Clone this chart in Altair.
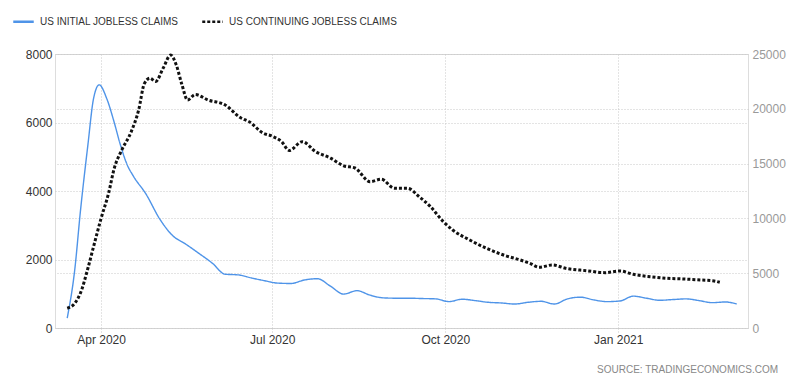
import altair as alt
import pandas as pd

series_names = ["US INITIAL JOBLESS CLAIMS", "US CONTINUING JOBLESS CLAIMS"]

initial_dates = [
    "2020-03-14", "2020-03-18", "2020-03-21", "2020-03-25", "2020-03-28", "2020-03-31",
    "2020-04-04", "2020-04-08", "2020-04-11", "2020-04-15", "2020-04-18", "2020-04-25",
    "2020-05-02", "2020-05-09", "2020-05-16", "2020-05-23", "2020-05-30", "2020-06-06",
    "2020-06-13", "2020-06-20", "2020-06-27", "2020-07-04", "2020-07-11", "2020-07-18",
    "2020-07-25", "2020-08-01", "2020-08-08", "2020-08-15", "2020-08-22", "2020-08-29",
    "2020-09-05", "2020-09-12", "2020-09-19", "2020-09-26", "2020-10-03", "2020-10-10",
    "2020-10-17", "2020-10-24", "2020-10-31", "2020-11-07", "2020-11-14", "2020-11-21",
    "2020-11-28", "2020-12-05", "2020-12-12", "2020-12-19", "2020-12-26", "2021-01-02",
    "2021-01-09", "2021-01-16", "2021-01-23", "2021-01-30", "2021-02-06", "2021-02-13",
    "2021-02-20", "2021-02-27", "2021-03-05",
]
initial_values = [
    290, 1700, 3400, 5350, 6700, 7100,
    6700, 6000, 5400, 4750, 4450, 3900,
    3200, 2700, 2450, 2180, 1900, 1570,
    1550, 1460, 1380, 1310, 1300, 1400,
    1440, 1220, 990, 1090, 960, 880,
    870, 870, 860, 850, 770, 840,
    800, 750, 730, 700, 750, 780,
    700, 850, 900, 820, 770, 790,
    930, 870, 810, 830, 850, 800,
    740, 760, 700,
]

continuing_dates = [
    "2020-03-14", "2020-03-18", "2020-03-21", "2020-03-25", "2020-03-28", "2020-04-01",
    "2020-04-05", "2020-04-08", "2020-04-12", "2020-04-17", "2020-04-21", "2020-04-24",
    "2020-04-27", "2020-04-30", "2020-05-04", "2020-05-08", "2020-05-11", "2020-05-14",
    "2020-05-17", "2020-05-21", "2020-05-28", "2020-06-06", "2020-06-14", "2020-06-19",
    "2020-06-26", "2020-07-01", "2020-07-06", "2020-07-10", "2020-07-17", "2020-07-24",
    "2020-08-01", "2020-08-08", "2020-08-14", "2020-08-22", "2020-08-28", "2020-09-04",
    "2020-09-11", "2020-09-17", "2020-09-23", "2020-09-30", "2020-10-05", "2020-10-14",
    "2020-10-23", "2020-11-01", "2020-11-10", "2020-11-15", "2020-11-20", "2020-11-27",
    "2020-12-04", "2020-12-15", "2020-12-25", "2021-01-02", "2021-01-09", "2021-01-18",
    "2021-01-27", "2021-02-05", "2021-02-14", "2021-02-21", "2021-02-24",
]
continuing_values = [
    1800, 2250, 3170, 5450, 7420, 10000,
    12300, 14570, 16240, 17900, 19900, 22300,
    22800, 22500, 23700, 24900, 24000, 22200,
    20800, 21300, 20800, 20350, 19200, 18800,
    17800, 17500, 17000, 16200, 17000, 16100,
    15500, 14800, 14600, 13350, 13570, 12750,
    12750, 12000, 11100, 9700, 8940, 8030,
    7270, 6660, 6200, 5900, 5540, 5750,
    5450, 5230, 5050, 5200, 4900, 4680,
    4530, 4470, 4380, 4290, 4170,
]

left_ticks = [0, 2000, 4000, 6000, 8000]
right_ticks = [0, 5000, 10000, 15000, 20000, 25000]
x_ticks = [(2020, 4), (2020, 7), (2020, 10), (2021, 1)]

df_initial = pd.DataFrame({
    "date": [d + "T00:00:00" for d in initial_dates],
    "value": initial_values,
    "series": series_names[0],
})
df_cont = pd.DataFrame({
    "date": [d + "T00:00:00" for d in continuing_dates],
    "value": continuing_values,
    "series": series_names[1],
})

FONT = "Liberation Sans"
GRID = "#c8c8c8"

x_enc = alt.X(
    "date:T",
    scale=alt.Scale(domain=[alt.DateTime(year=2020, month=3, date=7, hours=12),
                            alt.DateTime(year=2021, month=3, date=11)]),
    axis=alt.Axis(
        values=[alt.DateTime(year=y, month=m, date=1) for y, m in x_ticks],
        format="%b %Y", title=None, grid=True, gridDash=[1, 2], gridColor=GRID,
        domain=False, tickColor=GRID, tickDash=[1, 2], tickSize=5,
        labelColor="#333333", labelFontSize=12, labelFont=FONT, labelPadding=1,
    ),
)

legend = alt.Legend(
    title=None, orient="none", legendX=-43, legendY=-44, direction="horizontal",
    symbolType="stroke", symbolSize=420, symbolStrokeWidth=2.5,
    labelFontSize=10, labelFont=FONT, labelColor="#333333", columnPadding=18,
    labelOffset=5, labelLimit=1000,
)
color_enc = alt.Color("series:N", scale=alt.Scale(domain=series_names, range=["#4f94e8", "#111111"]), legend=legend)
dash_enc = alt.StrokeDash("series:N", scale=alt.Scale(domain=series_names, range=[[1, 0], [3, 2]]), legend=legend)

left = alt.Chart(df_initial).mark_line(strokeWidth=1.4, interpolate="monotone").encode(
    x=x_enc,
    y=alt.Y("value:Q", scale=alt.Scale(domain=[0, 8000]),
            axis=alt.Axis(values=left_ticks, title=None, grid=True, gridDash=[1, 2], gridColor=GRID,
                          domain=False, ticks=False, labelColor="#333333", labelFontSize=12,
                          labelFont=FONT, labelPadding=3, format="d")),
    color=color_enc,
    strokeDash=dash_enc,
)

right = alt.Chart(df_cont).mark_line(strokeWidth=3, interpolate="monotone").encode(
    x=x_enc,
    y=alt.Y("value:Q", scale=alt.Scale(domain=[0, 25000]),
            axis=alt.Axis(values=right_ticks, title=None, orient="right", grid=True, gridDash=[1, 2],
                          gridColor=GRID, domain=False, ticks=False, labelColor="#999999",
                          labelFontSize=12, labelFont=FONT, labelPadding=4, format="d")),
    color=color_enc,
    strokeDash=dash_enc,
)

chart = alt.layer(left, right).resolve_scale(y="independent").properties(
    width=693, height=274,
    autosize=alt.AutoSizeParams(type="none"),
    padding={"left": 47, "top": 46, "right": 44, "bottom": 54},
    title=alt.TitleParams("SOURCE:  TRADINGECONOMICS.COM", orient="bottom", anchor="end",
                          frame="group", fontSize=10, font=FONT, color="#888888",
                          fontWeight="normal", offset=20, dx=30, limit=1000),
).configure_view(stroke=None).configure(background="white")

chart.save("out.html", embed_options={"renderer": "svg", "actions": False})
